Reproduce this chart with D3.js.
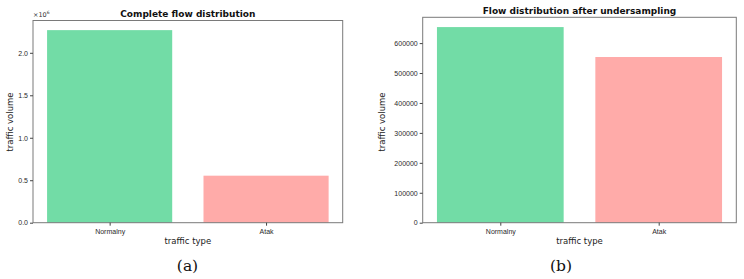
<!DOCTYPE html>
<html>
<head>
<meta charset="utf-8">
<script src="https://cdn.jsdelivr.net/npm/d3@7"></script>
<style>
  body { margin: 0; background: #fff; }
  svg { display: block; font-family: "DejaVu Sans", sans-serif; }
  .tick text { fill: #2a2a2a; }
</style>
</head>
<body>
<svg id="chart" width="744" height="279"></svg>
<script>
var categories = ["Normalny", "Atak"];
var fullValues = [2267000, 553500];
var underValues = [653500, 553500];
var fullTicks = [0, 500000, 1000000, 1500000, 2000000];
var underTicks = [0, 100000, 200000, 300000, 400000, 500000, 600000];
var colors = ["#72dca6", "#ffaba9"];

var svg = d3.select("#chart");

function panel(opt){
  var g = svg.append("g");
  var x = d3.scaleLinear().domain([-0.49, 1.49]).range([opt.left, opt.right]);
  var y = d3.scaleLinear().domain([0, d3.max(opt.values) * 1.05]).range([opt.bottom, opt.top]);

  g.selectAll("rect.bar")
    .data(opt.values)
    .enter().append("rect")
    .attr("class", "bar")
    .attr("x", function(d, i){ return x(i - 0.4); })
    .attr("width", function(d, i){ return x(i + 0.4) - x(i - 0.4); })
    .attr("y", function(d){ return y(d); })
    .attr("height", function(d){ return opt.bottom - y(d); })
    .attr("fill", function(d, i){ return colors[i]; });

  // frame
  g.append("rect")
    .attr("x", opt.left).attr("y", opt.top)
    .attr("width", opt.right - opt.left).attr("height", opt.bottom - opt.top)
    .attr("fill", "none").attr("stroke", "#7a7a7a").attr("stroke-width", 1);

  var xa = g.append("g")
    .attr("transform", "translate(0," + opt.bottom + ")")
    .call(d3.axisBottom(x).tickValues([0, 1]).tickFormat(function(i){ return categories[i]; })
      .tickSize(3).tickPadding(3));
  xa.select(".domain").remove();
  xa.selectAll("text").style("font-size", "7px");
  xa.selectAll("line").attr("stroke", "#444");

  var ya = g.append("g")
    .attr("transform", "translate(" + opt.left + ",0)")
    .call(d3.axisLeft(y).tickValues(opt.ticks).tickFormat(opt.fmt).tickSize(3).tickPadding(2));
  ya.select(".domain").remove();
  ya.selectAll("text").style("font-size", "7px");
  ya.selectAll("line").attr("stroke", "#444");

  var cx = (opt.left + opt.right) / 2;
  g.append("text")
    .attr("x", cx).attr("y", opt.titleY)
    .attr("text-anchor", "middle")
    .style("font-weight", "bold").style("font-size", "9px").attr("fill", "#111")
    .text(opt.title);

  g.append("text")
    .attr("x", cx).attr("y", 244)
    .attr("text-anchor", "middle")
    .style("font-size", "8.5px").attr("fill", "#222")
    .text("traffic type");

  g.append("text")
    .attr("transform", "translate(" + opt.ylabX + ",122) rotate(-90)")
    .attr("text-anchor", "middle")
    .style("font-size", "8.5px").attr("fill", "#222")
    .text("traffic volume");

  g.append("text")
    .attr("x", opt.capX).attr("y", 271)
    .attr("text-anchor", "middle")
    .style("font-family", "'DejaVu Serif', serif").style("font-size", "15.5px").attr("fill", "#111")
    .text(opt.caption);
  return g;
}

var a = panel({
  left: 33, right: 342.7, top: 20.5, bottom: 222.7,
  values: fullValues, ticks: fullTicks,
  fmt: function(d){ return (d / 1e6).toFixed(1); },
  title: "Complete flow distribution", titleY: 16.5,
  ylabX: 13, capX: 187.5, caption: "(a)"
});
var m = a.append("text").attr("x", 33).attr("y", 16.5)
  .style("font-size", "6.5px").attr("fill", "#333");
m.append("tspan").text("\u00d710");
m.append("tspan").attr("dy", -3).style("font-size", "4.5px").text("6");

panel({
  left: 422.7, right: 736.3, top: 17.3, bottom: 222.7,
  values: underValues, ticks: underTicks,
  fmt: function(d){ return String(d); },
  title: "Flow distribution after undersampling", titleY: 14,
  ylabX: 385, capX: 561, caption: "(b)"
});
</script>
</body>
</html>
